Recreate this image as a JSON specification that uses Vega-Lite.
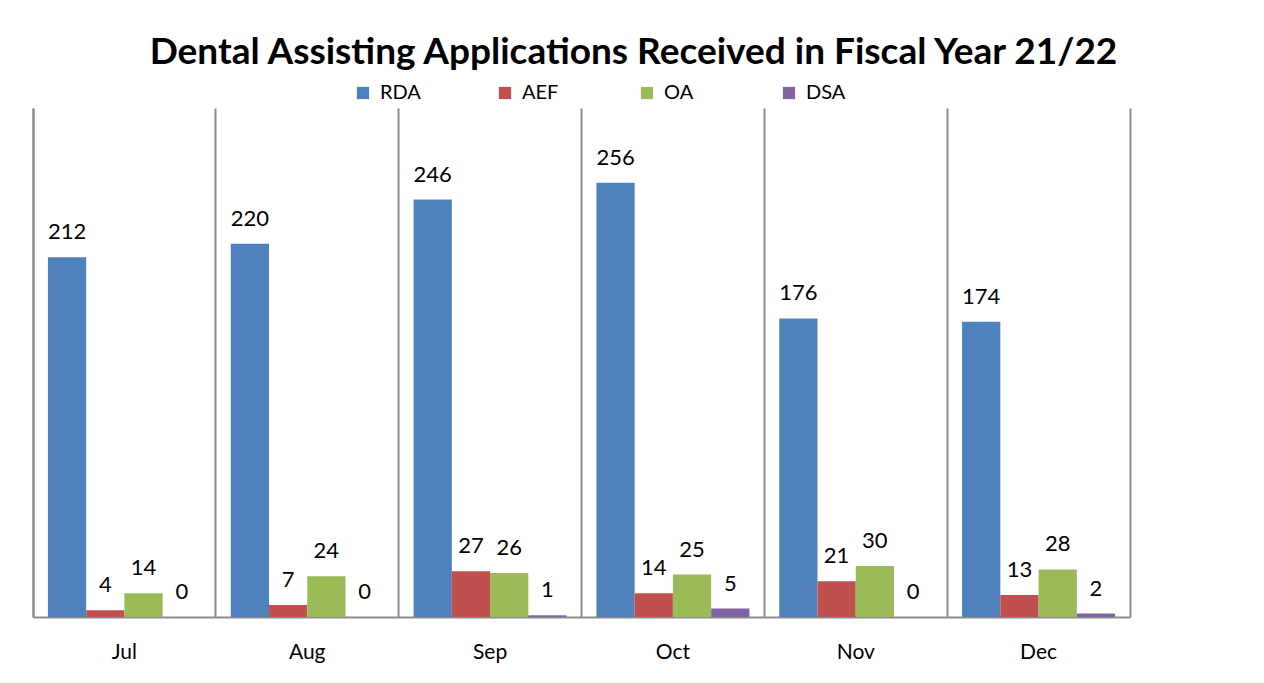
{
  "$schema": "https://vega.github.io/schema/vega-lite/v6.json",
  "autosize": "none",
  "width": 1097,
  "height": 509,
  "padding": {"left": 33, "top": 108, "right": 134, "bottom": 66},
  "background": "white",
  "title": {
    "text": "Dental Assisting Applications Received in Fiscal Year 21/22",
    "font": "Lato",
    "fontSize": 37,
    "fontWeight": "bold",
    "color": "#000000",
    "anchor": "middle",
    "dx": 52,
    "offset": 11
  },
  "data": {
    "values": [
      {"month": "Jul", "type": "RDA", "count": 212},
      {"month": "Jul", "type": "AEF", "count": 4},
      {"month": "Jul", "type": "OA", "count": 14},
      {"month": "Jul", "type": "DSA", "count": 0},
      {"month": "Aug", "type": "RDA", "count": 220},
      {"month": "Aug", "type": "AEF", "count": 7},
      {"month": "Aug", "type": "OA", "count": 24},
      {"month": "Aug", "type": "DSA", "count": 0},
      {"month": "Sep", "type": "RDA", "count": 246},
      {"month": "Sep", "type": "AEF", "count": 27},
      {"month": "Sep", "type": "OA", "count": 26},
      {"month": "Sep", "type": "DSA", "count": 1},
      {"month": "Oct", "type": "RDA", "count": 256},
      {"month": "Oct", "type": "AEF", "count": 14},
      {"month": "Oct", "type": "OA", "count": 25},
      {"month": "Oct", "type": "DSA", "count": 5},
      {"month": "Nov", "type": "RDA", "count": 176},
      {"month": "Nov", "type": "AEF", "count": 21},
      {"month": "Nov", "type": "OA", "count": 30},
      {"month": "Nov", "type": "DSA", "count": 0},
      {"month": "Dec", "type": "RDA", "count": 174},
      {"month": "Dec", "type": "AEF", "count": 13},
      {"month": "Dec", "type": "OA", "count": 28},
      {"month": "Dec", "type": "DSA", "count": 2}
    ]
  },
  "encoding": {
    "x": {
      "field": "month",
      "type": "nominal",
      "sort": ["Jul", "Aug", "Sep", "Oct", "Nov", "Dec"],
      "scale": {"paddingInner": 0, "paddingOuter": 0},
      "axis": {
        "title": null,
        "labelAngle": 0,
        "labelFont": "Lato",
        "labelFontSize": 21,
        "labelColor": "#000000",
        "labelPadding": 24,
        "ticks": false,
        "grid": true,
        "bandPosition": 0,
        "gridColor": "#8c8c8c",
        "gridWidth": 2,
        "domainColor": "#8c8c8c",
        "domainWidth": 2
      }
    },
    "xOffset": {
      "field": "type",
      "type": "nominal",
      "sort": ["RDA", "AEF", "OA", "DSA"],
      "scale": {"paddingInner": 0, "paddingOuter": 0.39}
    },
    "y": {
      "field": "count",
      "type": "quantitative",
      "scale": {"domain": [0, 300], "nice": false}
    }
  },
  "layer": [
    {
      "mark": {"type": "bar"},
      "encoding": {
        "y": {
          "field": "count",
          "type": "quantitative",
          "scale": {"domain": [0, 300], "nice": false},
          "axis": {
            "orient": "left",
            "title": null,
            "labels": false,
            "ticks": false,
            "grid": false,
            "domainColor": "#8c8c8c",
            "domainWidth": 2
          }
        },
        "color": {
          "field": "type",
          "type": "nominal",
          "sort": ["RDA", "AEF", "OA", "DSA"],
          "scale": {
            "domain": ["RDA", "AEF", "OA", "DSA"],
            "range": ["#4F81BD", "#C0504D", "#9BBB59", "#8064A2"]
          },
          "legend": {
            "title": null,
            "orient": "none",
            "direction": "horizontal",
            "legendX": 320,
            "legendY": -25,
            "symbolType": "square",
            "symbolSize": 150,
            "symbolStrokeWidth": 0,
            "labelFont": "Lato",
            "labelFontSize": 20,
            "labelColor": "#000000",
            "gridAlign": "all",
            "columnPadding": 74,
            "labelOffset": 7
          }
        }
      }
    },
    {
      "mark": {"type": "text", "baseline": "middle", "dy": -25, "font": "Lato", "fontSize": 22, "color": "#000000"},
      "encoding": {
        "text": {"field": "count", "type": "quantitative"},
        "y": {
          "field": "count",
          "type": "quantitative",
          "scale": {"domain": [0, 300], "nice": false},
          "axis": {
            "orient": "right",
            "title": null,
            "labels": false,
            "ticks": false,
            "grid": false,
            "domainColor": "#8c8c8c",
            "domainWidth": 2
          }
        }
      }
    }
  ],
  "resolve": {"axis": {"y": "independent"}},
  "config": {"view": {"stroke": null}}
}
